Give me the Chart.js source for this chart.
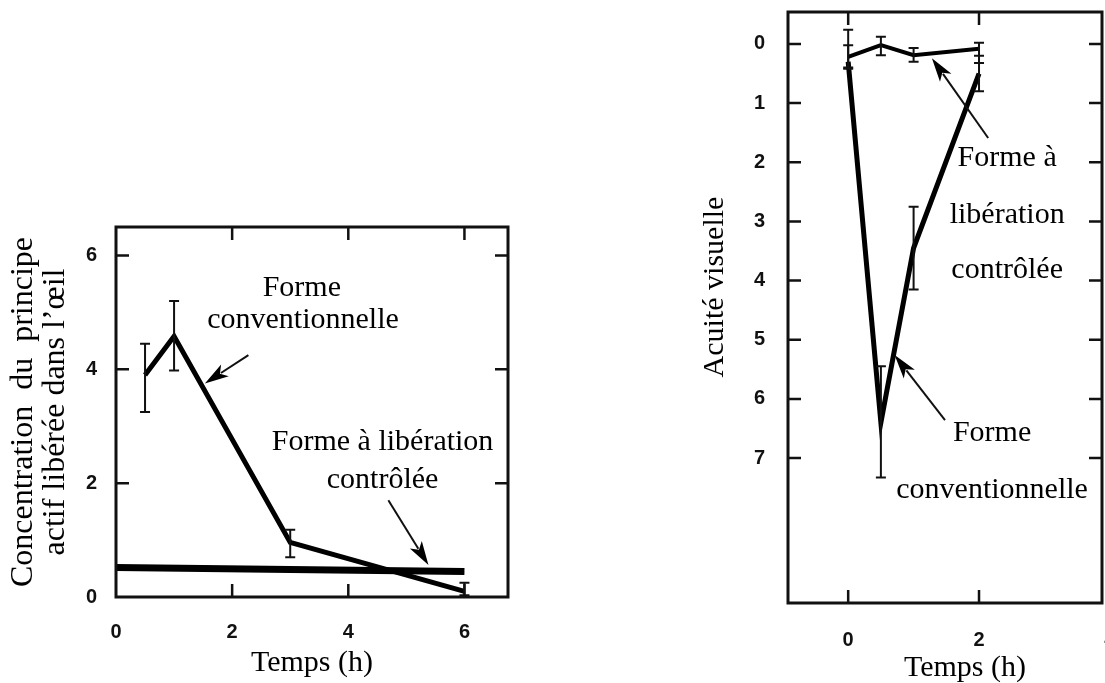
<!DOCTYPE html>
<html>
<head>
<meta charset="utf-8">
<script src="https://cdn.jsdelivr.net/npm/chart.js@4.4.1/dist/chart.umd.min.js"></script>
<style>
  body { margin: 0; background: #fff; overflow: hidden; width: 1105px; height: 683px; }
  .box { position: absolute; top: 0; height: 683px; }
</style>
</head>
<body>
<div class="box" style="left:0;width:560px"><canvas id="conc"></canvas></div>
<div class="box" style="left:680px;width:425px"><canvas id="acuity"></canvas></div>
<script>
// left panel: concentration in the eye (h)
const concTimes = [0.5, 1, 3, 6];
const concConventional = [3.9, 4.58, 0.96, 0.1];
const concConvLow = [3.25, 3.98, 0.7, 0.03];
const concConvHigh = [4.45, 5.2, 1.18, 0.25];
const concControlledTimes = [0, 6];
const concControlled = [0.52, 0.45];
const concTicksX = [0, 2, 4, 6];
const concTicksY = [0, 2, 4, 6];

// right panel: visual acuity
const acuityTimes = [0, 0.5, 1, 2];
const acuityControlled = [0.22, 0.02, 0.19, 0.08];
const acuityCtrlLow = [-0.24, -0.12, 0.07, -0.02];
const acuityCtrlHigh = [0.4, 0.19, 0.3, 0.32];
const acuityConventional = [0.3, 6.4, 3.45, 0.5];
const acuityConvLow = [0.02, 5.45, 2.75, 0.2];
const acuityConvHigh = [0.42, 7.33, 4.15, 0.8];
const acuityTicksX = [0, 2, 4];
const acuityTicksY = [0, 1, 2, 3, 4, 5, 6, 7];

const serif = 'Liberation Serif, Times New Roman, serif';
const tickFont = { family: 'Liberation Sans, Arial, sans-serif', size: 20, weight: 'bold' };

function pts(xs, ys) {
  return xs.map((x, i) => ({ x: x, y: ys[i] }));
}

// keep the plot frame exactly where the layout padding puts it
function noPad(s) {
  s.paddingLeft = 0;
  s.paddingRight = 0;
  s.paddingTop = 0;
  s.paddingBottom = 0;
}

const errorBars = {
  id: 'errorBars',
  afterDatasetsDraw(chart) {
    const { ctx, scales: { x, y } } = chart;
    ctx.save();
    ctx.strokeStyle = '#111';
    ctx.lineWidth = 2;
    chart.data.datasets.forEach(ds => {
      if (!ds.errLow) return;
      ds.data.forEach((p, i) => {
        const px = x.getPixelForValue(p.x);
        const y1 = y.getPixelForValue(ds.errLow[i]);
        const y2 = y.getPixelForValue(ds.errHigh[i]);
        const w = 5;
        ctx.beginPath();
        ctx.moveTo(px, y1); ctx.lineTo(px, y2);
        ctx.moveTo(px - w, y1); ctx.lineTo(px + w, y1);
        ctx.moveTo(px - w, y2); ctx.lineTo(px + w, y2);
        ctx.stroke();
      });
    });
    ctx.restore();
  }
};

const annotate = {
  id: 'annotate',
  afterDraw(chart, args, opts) {
    const { ctx, chartArea: a, scales: { x, y } } = chart;
    ctx.save();
    ctx.strokeStyle = '#111';
    ctx.lineWidth = 3;
    ctx.strokeRect(a.left, a.top, a.right - a.left, a.bottom - a.top);

    // inward tick marks on all four sides
    const L = opts.tickLen;
    ctx.lineWidth = 2.5;
    ctx.beginPath();
    opts.xTicks.forEach(v => {
      const px = x.getPixelForValue(v);
      if (px < a.left + 2 || px > a.right - 2) return;
      ctx.moveTo(px, a.bottom); ctx.lineTo(px, a.bottom - L);
      ctx.moveTo(px, a.top); ctx.lineTo(px, a.top + L);
    });
    opts.yTicks.forEach(v => {
      const py = y.getPixelForValue(v);
      if (py < a.top + 2 || py > a.bottom - 2) return;
      ctx.moveTo(a.left, py); ctx.lineTo(a.left + L, py);
      ctx.moveTo(a.right, py); ctx.lineTo(a.right - L, py);
    });
    ctx.stroke();

    // arrows
    ctx.fillStyle = '#000';
    ctx.lineWidth = 2;
    opts.arrows.forEach(ar => {
      const x1 = x.getPixelForValue(ar.from[0]), y1 = y.getPixelForValue(ar.from[1]);
      const x2 = x.getPixelForValue(ar.to[0]), y2 = y.getPixelForValue(ar.to[1]);
      const ang = Math.atan2(y2 - y1, x2 - x1);
      const hl = 24, hw = 7;
      const c = Math.cos(ang), s = Math.sin(ang);
      ctx.beginPath();
      ctx.moveTo(x1, y1);
      ctx.lineTo(x2 - c * hl * 0.8, y2 - s * hl * 0.8);
      ctx.stroke();
      ctx.beginPath();
      ctx.moveTo(x2, y2);
      ctx.lineTo(x2 - c * hl - s * hw, y2 - s * hl + c * hw);
      ctx.lineTo(x2 - c * hl * 0.75, y2 - s * hl * 0.75);
      ctx.lineTo(x2 - c * hl + s * hw, y2 - s * hl - c * hw);
      ctx.closePath();
      ctx.fill();
    });

    // text labels next to the curves
    ctx.font = '30px ' + serif;
    ctx.textAlign = 'center';
    ctx.textBaseline = 'middle';
    opts.notes.forEach(n => {
      ctx.fillText(n.text, x.getPixelForValue(n.x), y.getPixelForValue(n.y));
    });

    // axis titles placed by hand
    (opts.titles || []).forEach(t => {
      ctx.save();
      ctx.translate(t.px, t.py);
      ctx.rotate(t.rot || 0);
      ctx.fillText(t.text, 0, 0);
      ctx.restore();
    });
    ctx.restore();
  }
};

new Chart(document.getElementById('conc'), {
  type: 'line',
  data: {
    datasets: [
      {
        label: 'Forme conventionnelle',
        data: pts(concTimes, concConventional),
        errLow: concConvLow,
        errHigh: concConvHigh,
        borderColor: '#000',
        borderWidth: 5,
        pointRadius: 0,
        tension: 0
      },
      {
        label: 'Forme à libération contrôlée',
        data: pts(concControlledTimes, concControlled),
        borderColor: '#000',
        borderWidth: 7,
        pointRadius: 0,
        tension: 0
      }
    ]
  },
  options: {
    responsive: true,
    maintainAspectRatio: false,
    animation: false,
    layout: { padding: { left: 0, top: 227, right: 52, bottom: 0 } },
    plugins: {
      legend: { display: false },
      tooltip: { enabled: false },
      annotate: {
        tickLen: 13,
        xTicks: concTicksX,
        yTicks: concTicksY,
        arrows: [
          { from: [2.28, 4.25], to: [1.53, 3.75] },
          { from: [4.69, 1.7], to: [5.38, 0.56] }
        ],
        notes: [
          { text: 'Forme', x: 3.2, y: 5.42 },
          { text: 'conventionnelle', x: 3.22, y: 4.86 },
          { text: 'Forme à libération', x: 4.59, y: 2.72 },
          { text: 'contrôlée', x: 4.59, y: 2.05 }
        ]
      }
    },
    scales: {
      x: {
        type: 'linear',
        min: 0,
        max: 6.75,
        afterBuildTicks: s => { s.ticks = concTicksX.map(v => ({ value: v })); },
        afterFit: s => { s.height = 86; noPad(s); },
        grid: { display: false },
        border: { display: false },
        ticks: { padding: 15, font: tickFont, color: '#111', autoSkip: false, maxRotation: 0 },
        title: {
          display: true,
          text: 'Temps (h)',
          color: '#000',
          font: { family: serif, size: 30 },
          padding: { top: 0, bottom: 2 }
        }
      },
      y: {
        min: 0,
        max: 6.5,
        afterBuildTicks: s => { s.ticks = concTicksY.map(v => ({ value: v })); },
        afterFit: s => { s.width = 116; noPad(s); },
        grid: { display: false },
        border: { display: false },
        ticks: { padding: 11, font: tickFont, color: '#111', autoSkip: false },
        title: {
          display: true,
          text: ['Concentration  du  principe', 'actif libérée dans l’œil'],
          color: '#000',
          font: { family: serif, size: 32, lineHeight: 1 },
          padding: { top: 8, bottom: 0 }
        }
      }
    }
  },
  plugins: [errorBars, annotate]
});

new Chart(document.getElementById('acuity'), {
  type: 'line',
  data: {
    datasets: [
      {
        label: 'Forme à libération contrôlée',
        data: pts(acuityTimes, acuityControlled),
        errLow: acuityCtrlLow,
        errHigh: acuityCtrlHigh,
        borderColor: '#000',
        borderWidth: 4,
        pointRadius: 0,
        tension: 0
      },
      {
        label: 'Forme conventionnelle',
        data: pts(acuityTimes, acuityConventional),
        errLow: acuityConvLow,
        errHigh: acuityConvHigh,
        borderColor: '#000',
        borderWidth: 5,
        pointRadius: 0,
        tension: 0
      }
    ]
  },
  options: {
    responsive: true,
    maintainAspectRatio: false,
    animation: false,
    layout: { padding: { left: 0, top: 12, right: 3, bottom: 0 } },
    plugins: {
      legend: { display: false },
      tooltip: { enabled: false },
      annotate: {
        tickLen: 13,
        xTicks: acuityTicksX,
        yTicks: acuityTicksY,
        arrows: [
          { from: [2.14, 1.59], to: [1.28, 0.24] },
          { from: [1.48, 6.36], to: [0.71, 5.26] }
        ],
        notes: [
          { text: 'Forme à', x: 2.43, y: 1.93 },
          { text: 'libération', x: 2.43, y: 2.89 },
          { text: 'contrôlée', x: 2.43, y: 3.82 },
          { text: 'Forme', x: 2.2, y: 6.58 },
          { text: 'conventionnelle', x: 2.2, y: 7.55 }
        ],
        titles: [
          { text: 'Temps (h)', px: 285, py: 668 },
          { text: 'Acuité visuelle', px: 35, py: 287, rot: -Math.PI / 2 }
        ]
      }
    },
    scales: {
      x: {
        type: 'linear',
        min: -0.92,
        max: 3.88,
        afterBuildTicks: s => { s.ticks = acuityTicksX.map(v => ({ value: v })); },
        afterFit: s => { s.height = 80; noPad(s); },
        grid: { display: false },
        border: { display: false },
        ticks: { padding: 17, font: tickFont, color: '#111', autoSkip: false, maxRotation: 0 }
      },
      y: {
        reverse: true,
        min: -0.54,
        max: 9.45,
        afterBuildTicks: s => { s.ticks = acuityTicksY.map(v => ({ value: v })); },
        afterFit: s => { s.width = 108; noPad(s); },
        grid: { display: false },
        border: { display: false },
        ticks: { padding: 15, font: tickFont, color: '#111', autoSkip: false }
      }
    }
  },
  plugins: [errorBars, annotate]
});
</script>
</body>
</html>
